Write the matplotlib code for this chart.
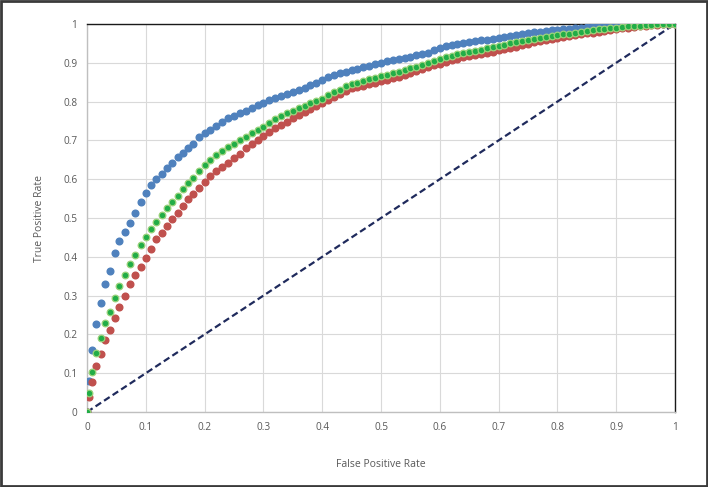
import numpy as np
import matplotlib
matplotlib.use("Agg")
import matplotlib.pyplot as plt
from matplotlib.patches import Rectangle

# -----------------------------
# ROC points
# -----------------------------
fpr = [0, 0.003, 0.009, 0.016, 0.023, 0.031, 0.039, 0.047, 0.055, 0.064,
       0.073, 0.082, 0.091, 0.10, 0.109, 0.118, 0.127, 0.136, 0.145, 0.154,
       0.163, 0.172, 0.181, 0.19] + [round(0.20 + 0.01 * i, 2) for i in range(81)]

tpr_blue = [0, 0.08, 0.16, 0.227, 0.28, 0.33, 0.363, 0.41, 0.44, 0.465,
            0.488, 0.513, 0.54, 0.565, 0.585, 0.60, 0.614, 0.63, 0.643, 0.658,
            0.668, 0.68, 0.692, 0.708,
            0.72, 0.728, 0.738, 0.748, 0.757, 0.764, 0.771, 0.777, 0.784, 0.791,
            0.797, 0.803, 0.81, 0.815, 0.82, 0.825, 0.83, 0.836, 0.844, 0.849,
            0.855, 0.863, 0.868, 0.873, 0.877, 0.881, 0.885, 0.889, 0.893, 0.897,
            0.90, 0.904, 0.907, 0.91, 0.913, 0.916, 0.919, 0.922, 0.926, 0.934,
            0.939, 0.943, 0.946, 0.948, 0.951, 0.953, 0.956, 0.958, 0.96, 0.962,
            0.965, 0.967, 0.969, 0.972, 0.975, 0.977, 0.979, 0.98, 0.982, 0.984,
            0.985, 0.987, 0.988, 0.99, 0.991, 0.992, 0.994, 0.995, 0.996, 0.997,
            0.997, 0.998, 0.998, 0.999, 0.999, 0.999, 1.0, 1.0, 1.0, 1.0, 1.0]

tpr_green = [0, 0.05, 0.104, 0.151, 0.19, 0.229, 0.258, 0.293, 0.325, 0.353,
             0.381, 0.405, 0.43, 0.45, 0.471, 0.49, 0.508, 0.526, 0.542, 0.558,
             0.574, 0.59, 0.604, 0.62,
             0.636, 0.65, 0.662, 0.672, 0.682, 0.691, 0.70, 0.709, 0.718, 0.727,
             0.735, 0.745, 0.754, 0.763, 0.77, 0.777, 0.783, 0.789, 0.796, 0.802,
             0.808, 0.816, 0.825, 0.831, 0.84, 0.845, 0.849, 0.853, 0.857, 0.861,
             0.865, 0.869, 0.873, 0.877, 0.882, 0.886, 0.89, 0.895, 0.90, 0.905,
             0.91, 0.914, 0.918, 0.922, 0.925, 0.928, 0.931, 0.934, 0.937, 0.94,
             0.944, 0.947, 0.95, 0.953, 0.956, 0.959, 0.962, 0.964, 0.967, 0.969,
             0.971, 0.973, 0.975, 0.978, 0.98, 0.982, 0.984, 0.986, 0.988, 0.989,
             0.99, 0.992, 0.994, 0.995, 0.996, 0.997, 0.998, 0.999, 0.999, 1.0, 1.0]

tpr_red = [0, 0.038, 0.078, 0.118, 0.149, 0.185, 0.211, 0.243, 0.271, 0.30,
           0.33, 0.353, 0.375, 0.398, 0.42, 0.445, 0.462, 0.48, 0.498, 0.514,
           0.532, 0.548, 0.563, 0.578,
           0.594, 0.607, 0.62, 0.632, 0.643, 0.655, 0.666, 0.68, 0.69, 0.70,
           0.711, 0.722, 0.731, 0.74, 0.748, 0.757, 0.765, 0.774, 0.782, 0.789,
           0.796, 0.804, 0.812, 0.82, 0.828, 0.834, 0.838, 0.841, 0.845, 0.848,
           0.852, 0.856, 0.86, 0.864, 0.868, 0.873, 0.878, 0.884, 0.889, 0.894,
           0.898, 0.903, 0.906, 0.91, 0.914, 0.917, 0.92, 0.923, 0.926, 0.929,
           0.932, 0.935, 0.938, 0.942, 0.946, 0.949, 0.953, 0.956, 0.958, 0.961,
           0.963, 0.966, 0.968, 0.971, 0.973, 0.976, 0.978, 0.98, 0.982, 0.985,
           0.987, 0.989, 0.991, 0.992, 0.994, 0.996, 0.997, 0.998, 0.999, 1.0, 1.0]

chance = [0, 1]
ticks = [round(0.1 * i, 1) for i in range(11)]
tick_labels = ["0", "0.1", "0.2", "0.3", "0.4", "0.5", "0.6", "0.7", "0.8", "0.9", "1"]

plt.rcParams["font.family"] = ["Open Sans", "DejaVu Sans"]

fig = plt.figure(figsize=(7.08, 4.87), dpi=100)
ax = fig.add_axes([0.1229, 0.154, 0.8305, 0.7967])

ax.plot(chance, chance, color="#1f2a5c", lw=1.6, ls=(0, (3, 1.6)), zorder=2)
ax.plot(fpr, tpr_blue, "o", ms=4.8, color="#4f81bd", mec="#4f81bd", zorder=3)
ax.plot(fpr, tpr_red, "o", ms=4.8, color="#c0504d", mec="#c0504d", zorder=4)
ax.plot(fpr, tpr_green, "o", ms=4.8, color="#21ad47", mec="#9ad27a",
        mew=0.9, zorder=5)

ax.set_xlim(0, 1)
ax.set_ylim(0, 1)
ax.set_xticks(ticks)
ax.set_yticks(ticks)
ax.set_xticklabels(tick_labels)
ax.set_yticklabels(tick_labels)
ax.tick_params(length=0, labelsize=7.2, labelcolor="#595959", pad=7)
ax.grid(True, color="#d9d9d9", lw=0.8)
ax.set_axisbelow(True)

for side in ["left", "bottom"]:
    ax.spines[side].set_color("#bfbfbf")
    ax.spines[side].set_linewidth(1.0)
for side in ["top", "right"]:
    ax.spines[side].set_color("#1a1a1a")
    ax.spines[side].set_linewidth(1.0)

ax.set_xlabel("False Positive Rate", fontsize=7.5, color="#595959", labelpad=19)
ax.set_ylabel("True Positive Rate", fontsize=7.5, color="#595959", labelpad=13)

fig.patches.append(Rectangle((0.0015, 0.002), 0.997, 0.996, transform=fig.transFigure,
                             fill=False, ec="#3a3a3a", lw=2.0))

fig.savefig("out.png", dpi=100)
